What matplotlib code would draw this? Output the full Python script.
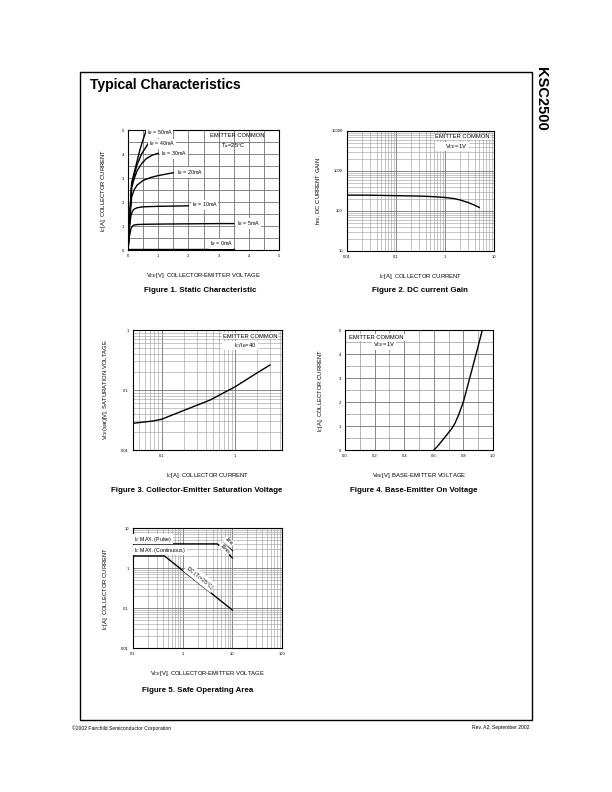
import matplotlib
matplotlib.use('Agg')
import matplotlib.pyplot as plt
from matplotlib.patches import Rectangle
from matplotlib.ticker import FixedLocator, NullFormatter, LogLocator

plt.rcParams['font.family'] = ['Liberation Sans', 'DejaVu Sans']

W, H = 612, 792

# ---- Figure 1: static characteristic ----
vce_50 = [0, 0.06, 0.12, 0.2, 0.3, 0.4, 0.5, 0.62]
ic_50 = [0, 1.4, 2.8, 3.2, 3.7, 4.2, 4.6, 5.05]
vce_40 = [0, 0.06, 0.12, 0.2, 0.3, 0.45, 0.6, 0.73]
ic_40 = [0, 1.4, 2.7, 3.1, 3.55, 4.0, 4.3, 4.55]
vce_30 = [0, 0.06, 0.12, 0.2, 0.3, 0.45, 0.6, 0.8, 1.0]
ic_30 = [0, 1.4, 2.6, 2.95, 3.3, 3.6, 3.8, 3.95, 4.03]
vce_20 = [0, 0.06, 0.12, 0.2, 0.3, 0.5, 0.75, 1.0, 1.25, 1.5]
ic_20 = [0, 1.3, 2.2, 2.5, 2.7, 2.9, 3.02, 3.1, 3.16, 3.22]
vce_10 = [0, 0.05, 0.1, 0.15, 0.2, 0.3, 0.5, 1.0, 1.5, 2.0]
ic_10 = [0, 1.0, 1.45, 1.62, 1.7, 1.76, 1.8, 1.82, 1.83, 1.84]
vce_5 = [0, 0.05, 0.1, 0.15, 0.2, 0.3, 0.5, 1, 2, 3, 3.5]
ic_5 = [0, 0.6, 0.9, 1.0, 1.04, 1.06, 1.07, 1.08, 1.09, 1.1, 1.1]
vce_0 = [0, 3.5]
ic_0 = [0.03, 0.03]
ib_labels = ['I$_B$ = 50mA', 'I$_B$ = 40mA', 'I$_B$ = 30mA', 'I$_B$ = 20mA',
             'I$_B$ = 10mA', 'I$_B$ = 5mA', 'I$_B$ = 0mA']

# ---- Figure 2: DC current gain ----
ic_gain = [0.01, 0.03, 0.1, 0.3, 0.6, 1, 1.5, 2, 3, 4, 5]
hfe = [250, 248, 242, 236, 228, 218, 205, 190, 162, 140, 123]

# ---- Figure 3: saturation voltage ----
ic_sat = [0.041, 0.076, 0.1, 0.196, 0.455, 1.0, 1.78, 2.95]
vce_sat = [0.0279, 0.0304, 0.0325, 0.0452, 0.068, 0.1136, 0.178, 0.261]

# ---- Figure 4: base-emitter on voltage ----
vbe_on = [0.60, 0.62, 0.642, 0.66, 0.687, 0.72, 0.743, 0.77, 0.80, 0.845, 0.89, 0.928]
ic_on = [0, 0.12, 0.28, 0.42, 0.625, 0.88, 1.11, 1.5, 2.01, 3.05, 4.1, 5.0]

# ---- Figure 5: safe operating area ----
soa_pulse_v = [0.1, 5, 10]
soa_pulse_i = [4, 4, 1.8]
soa_1ms_v = [6.5, 10]
soa_1ms_i = [4.2, 2.7]
soa_dc_v = [0.1, 0.43, 10]
soa_dc_i = [2, 2, 0.089]

fig = plt.figure(figsize=(W / 100, H / 100), dpi=100)

def add_ax(x0, y0, x1, y1):
    return fig.add_axes([x0 / W, 1 - y1 / H, (x1 - x0) / W, (y1 - y0) / H])

def fig_text(x, y, s, **kw):
    fig.text(x / W, 1 - y / H, s, **kw)

def style(ax, logx=False, logy=False):
    for sp in ax.spines.values():
        sp.set_linewidth(0.8)
        sp.set_color('black')
    ax.tick_params(which='both', length=0, labelsize=3, pad=3)
    if logx:
        ax.set_xscale('log')
        ax.xaxis.set_minor_locator(LogLocator(base=10, subs=range(2, 10)))
        ax.xaxis.set_minor_formatter(NullFormatter())
    if logy:
        ax.set_yscale('log')
        ax.yaxis.set_minor_locator(LogLocator(base=10, subs=range(2, 10)))
        ax.yaxis.set_minor_formatter(NullFormatter())
    ax.grid(True, which='major', color='0.45', lw=0.6)
    ax.grid(True, which='minor', color='0.6', lw=0.4)
    ax.set_axisbelow(True)

def white_note(ax, x0, x1, y, s):
    # label sitting in a white strip, text flush right
    ax.add_patch(Rectangle((x0, y - 0.035), x1 - x0, 0.07, transform=ax.transAxes,
                           facecolor='white', edgecolor='none', zorder=3))
    ax.text(x1 - 0.01, y, s, transform=ax.transAxes, fontsize=4.2,
            ha='right', va='center', zorder=4)

lab_fs = 4.2
line_kw = dict(color='black', lw=1.0)
wbox = dict(facecolor='white', edgecolor='none', pad=0.6)

# Figure 1
ax1 = add_ax(128, 130, 279, 250)
style(ax1)
ax1.set_xlim(0, 5)
ax1.set_ylim(0, 5)
ax1.set_xticks(range(0, 6))
ax1.set_yticks(range(0, 6))
ax1.xaxis.set_minor_locator(FixedLocator([0.5, 1.5, 2.5, 3.5, 4.5]))
ax1.yaxis.set_minor_locator(FixedLocator([0.5, 1.5, 2.5, 3.5, 4.5]))
ax1.grid(True, which='minor', color='0.45', lw=0.6)
curves = [(vce_50, ic_50), (vce_40, ic_40), (vce_30, ic_30), (vce_20, ic_20),
          (vce_10, ic_10), (vce_5, ic_5), (vce_0, ic_0)]
lab_pos = [(0.62, 4.9), (0.7, 4.42), (1.1, 4.03), (1.63, 3.23),
           (2.11, 1.88), (3.6, 1.11), (2.7, 0.25)]
for (v, i), lab, (lx, ly) in zip(curves, ib_labels, lab_pos):
    ax1.plot(v, i, **line_kw)
    ax1.text(lx, ly, lab, fontsize=3.8, va='center', ha='left', bbox=wbox)
ax1.text(3.63, 4.79, 'EMITTER COMMON', fontsize=4.2, ha='center', va='center')
ax1.text(3.5, 4.37, 'T$_a$=25°C', fontsize=4.2, ha='center', va='center')
ax1.set_xlabel('V$_{CE}$[V], COLLECTOR-EMITTER VOLTAGE', fontsize=lab_fs, labelpad=9)
ax1.set_ylabel('I$_C$[A], COLLECTOR CURRENT', fontsize=lab_fs, labelpad=10)

# Figure 2
ax2 = add_ax(347, 131, 494, 251)
style(ax2, logx=True, logy=True)
ax2.set_xlim(0.01, 10)
ax2.set_ylim(10, 10000)
ax2.set_xticks([0.01, 0.1, 1, 10])
ax2.set_xticklabels(['0.01', '0.1', '1', '10'])
ax2.set_yticks([10, 100, 1000, 10000])
ax2.set_yticklabels(['10', '100', '1000', '10000'])
ax2.plot(ic_gain, hfe, **line_kw)
ax2.text(0.97, 0.95, 'EMITTER COMMON', transform=ax2.transAxes, fontsize=4.2,
         ha='right', va='center', bbox=wbox)
white_note(ax2, 0.6, 0.83, 0.87, 'V$_{CE}$=1V')
ax2.set_xlabel('I$_C$[A], COLLECTOR CURRENT', fontsize=lab_fs, labelpad=9)
ax2.set_ylabel('h$_{FE}$, DC CURRENT GAIN', fontsize=lab_fs, labelpad=6)

# Figure 3
ax3 = add_ax(133, 330, 282, 450)
style(ax3, logx=True, logy=True)
ax3.set_xlim(0.041, 4.3)
ax3.set_ylim(0.01, 1)
ax3.set_xticks([0.1, 1])
ax3.set_xticklabels(['0.1', '1'])
ax3.set_yticks([0.01, 0.1, 1])
ax3.set_yticklabels(['0.01', '0.1', '1'])
ax3.plot(ic_sat, vce_sat, **line_kw)
ax3.text(0.97, 0.95, 'EMITTER COMMON', transform=ax3.transAxes, fontsize=4.2,
         ha='right', va='center', bbox=wbox)
white_note(ax3, 0.6, 0.84, 0.87, 'I$_C$/I$_B$=40')
ax3.set_xlabel('I$_C$[A], COLLECTOR CURRENT', fontsize=lab_fs, labelpad=9)
ax3.set_ylabel('V$_{CE}$(sat)[V], SATURATION VOLTAGE', fontsize=lab_fs, labelpad=8)

# Figure 4
ax4 = add_ax(345, 330, 493, 450)
style(ax4)
ax4.set_xlim(0, 1.0)
ax4.set_ylim(0, 5)
ax4.set_xticks([0, 0.2, 0.4, 0.6, 0.8, 1.0])
ax4.set_xticklabels(['0.0', '0.2', '0.4', '0.6', '0.8', '1.0'])
ax4.set_yticks(range(0, 6))
ax4.xaxis.set_minor_locator(FixedLocator([0.1, 0.3, 0.5, 0.7, 0.9]))
ax4.yaxis.set_minor_locator(FixedLocator([0.5, 1.5, 2.5, 3.5, 4.5]))
ax4.grid(True, which='minor', color='0.6', lw=0.5)
ax4.plot(vbe_on, ic_on, **line_kw)
ax4.text(0.03, 0.94, 'EMITTER COMMON', transform=ax4.transAxes, fontsize=4.2,
         ha='left', va='center', bbox=wbox)
ax4.text(0.19, 0.88, 'V$_{CE}$=1V', transform=ax4.transAxes, fontsize=4.2,
         ha='left', va='center', bbox=wbox)
ax4.set_xlabel('V$_{BE}$[V], BASE-EMITTER VOLTAGE', fontsize=lab_fs, labelpad=9)
ax4.set_ylabel('I$_C$[A], COLLECTOR CURRENT', fontsize=lab_fs, labelpad=10)

# Figure 5
ax5 = add_ax(133, 528, 282, 648)
style(ax5, logx=True, logy=True)
ax5.set_xlim(0.1, 100)
ax5.set_ylim(0.01, 10)
ax5.set_xticks([0.1, 1, 10, 100])
ax5.set_xticklabels(['0.1', '1', '10', '100'])
ax5.set_yticks([0.01, 0.1, 1, 10])
ax5.set_yticklabels(['0.01', '0.1', '1', '10'])
ax5.plot(soa_pulse_v, soa_pulse_i, **line_kw)
ax5.plot(soa_1ms_v, soa_1ms_i, **line_kw)
ax5.plot(soa_dc_v, soa_dc_i, **line_kw)
ax5.text(0.105, 5.3, 'I$_C$ MAX. (Pulse)', fontsize=3.8, ha='left', va='center', bbox=wbox)
ax5.text(0.105, 2.8, 'I$_C$ MAX. (Continuous)', fontsize=3.8, ha='left', va='center', bbox=wbox)
ax5.text(2.25, 0.57, 'DC (T$_C$=25°C)', fontsize=3.6, ha='center', va='center',
         rotation=-39, bbox=wbox)
ax5.text(8.6, 4.6, '1ms', fontsize=3.4, ha='center', va='center', rotation=-45, bbox=wbox)
ax5.text(7.2, 3.0, '10ms', fontsize=3.4, ha='center', va='center', rotation=-45, bbox=wbox)
ax5.set_xlabel('V$_{CE}$[V], COLLECTOR-EMITTER VOLTAGE', fontsize=lab_fs, labelpad=9)
ax5.set_ylabel('I$_C$[A], COLLECTOR CURRENT', fontsize=lab_fs, labelpad=8)

# page frame and texts
fig.patches.append(Rectangle((80 / W, 1 - 720 / H), (532 - 80) / W, (720 - 72) / H,
                             transform=fig.transFigure, fill=False,
                             edgecolor='black', lw=1.0))
fig_text(90, 85, 'Typical Characteristics', fontsize=10, fontweight='bold',
         ha='left', va='center')
fig_text(541, 99, 'KSC2500', fontsize=10.5, fontweight='bold', rotation=-90,
         ha='center', va='center')
cap_fs = 5.7
fig_text(200, 291, 'Figure 1. Static Characteristic', fontsize=cap_fs, fontweight='bold',
         ha='center', va='center')
fig_text(420, 291, 'Figure 2. DC current Gain', fontsize=cap_fs, fontweight='bold',
         ha='center', va='center')
fig_text(197, 491, 'Figure 3. Collector-Emitter Saturation Voltage', fontsize=cap_fs,
         fontweight='bold', ha='center', va='center')
fig_text(414, 491, 'Figure 4. Base-Emitter On Voltage', fontsize=cap_fs, fontweight='bold',
         ha='center', va='center')
fig_text(198, 690, 'Figure 5. Safe Operating Area', fontsize=cap_fs, fontweight='bold',
         ha='center', va='center')
fig_text(72, 728, '©2002 Fairchild Semiconductor Corporation', fontsize=3.6,
         ha='left', va='center')
fig_text(530, 728, 'Rev. A2, September 2002', fontsize=3.6, ha='right', va='center')

fig.savefig('out.png', dpi=100)
